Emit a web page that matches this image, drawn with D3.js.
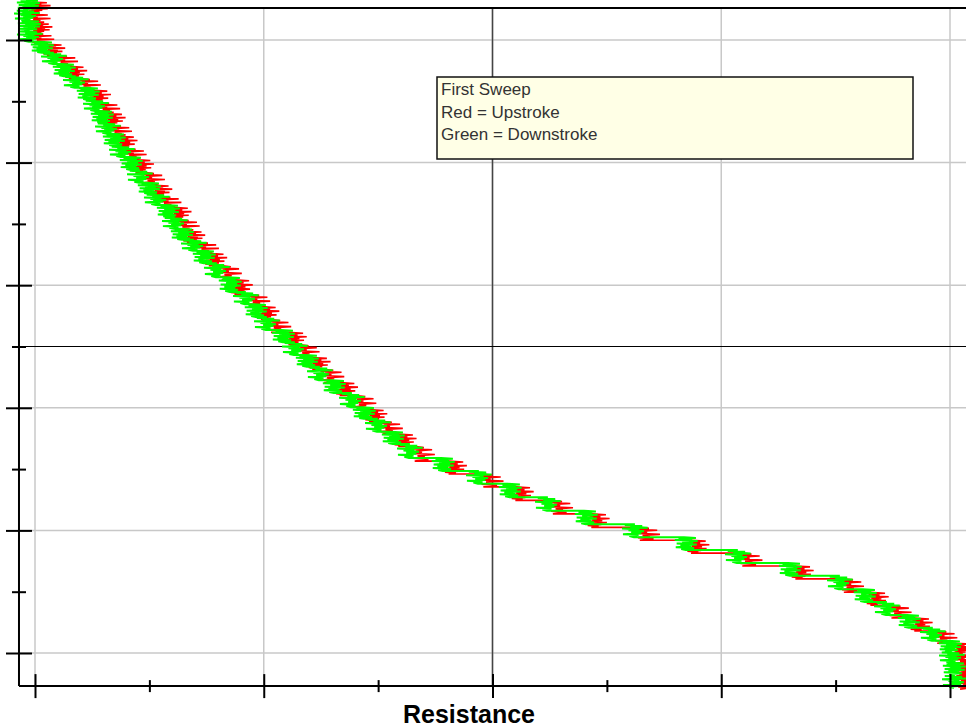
<!DOCTYPE html>
<html>
<head>
<meta charset="utf-8">
<script src="https://cdnjs.cloudflare.com/ajax/libs/d3/7.8.5/d3.min.js"></script>
<style>
body { margin: 0; background: #fff; }
</style>
</head>
<body>
<div id="chart"></div>
<script>
// downstroke (green): step boundaries on the position axis and resistance of each step
const posDown = [106.5, 104.9, 103.1, 101.5, 99.7, 97.9, 96.1, 94.1, 92.2, 90.2,
  88.4, 86.5, 84.7, 82.7, 80.9, 78.8, 76.7, 74.9, 73.1, 71.1,
  69.2, 67.4, 65.6, 63.6, 61.3, 58.9, 56.9, 54.8, 52.7, 50.7,
  48.6, 46.7, 44.5, 42.4, 40.1, 38.2, 36.1, 34.1, 31.8, 29.7,
  27.6, 25.4, 23.2, 21.0, 18.9, 16.8, 14.7, 12.6, 10.4, 8.3,
  6.2, 4.1, 2.0, 0.2, -1.6, -3.6, -5.7];
const resDown = [-0.98, -1.09, -0.87, -0.77, 0.55, 1.86, 2.95, 4.26, 5.57, 6.45,
  7.10, 7.76, 8.42, 9.29, 10.27, 11.26, 12.24, 13.11, 14.32, 15.08,
  15.85, 17.16, 18.25, 19.67, 21.09, 22.84, 23.93, 25.14, 26.89, 28.20,
  29.51, 30.93, 32.46, 34.43, 35.74, 37.27, 38.91, 40.77, 44.37, 48.31,
  51.69, 55.85, 60.00, 65.36, 70.93, 76.61, 82.30, 87.76, 90.49, 92.90,
  95.30, 97.92, 99.78, 100.0, 100.22, 100.33];

// upstroke (red)
const posUp = [106.2, 104.5, 102.7, 101.1, 99.3, 97.5, 95.7, 93.7, 91.8, 89.8,
  88.0, 86.1, 84.3, 82.3, 80.5, 78.4, 76.3, 74.5, 72.7, 70.7,
  68.8, 67.0, 65.2, 63.2, 60.9, 58.5, 56.5, 54.4, 52.3, 50.3,
  48.2, 46.3, 44.1, 42.0, 39.7, 37.8, 35.7, 33.7, 31.3, 29.2,
  27.1, 24.9, 22.7, 20.5, 18.4, 16.3, 14.2, 12.1, 9.9, 7.8,
  5.7, 3.6, 1.6, -0.2, -2.0, -4.0, -5.9];
const resUp = [-0.6, -0.7, -0.4, -0.3, 1.0, 2.3, 3.4, 4.8, 6.0, 6.9,
  7.6, 8.2, 8.9, 9.8, 10.7, 11.8, 12.7, 13.6, 14.8, 15.6,
  16.3, 17.7, 18.7, 20.2, 21.5, 23.3, 24.4, 25.6, 27.4, 28.7,
  30.0, 31.4, 33.0, 34.9, 36.2, 37.8, 39.4, 41.3, 44.9, 48.8,
  52.2, 56.4, 60.5, 65.9, 71.4, 77.1, 82.8, 88.2, 91.0, 93.4,
  95.8, 98.4, 100.3, 100.6, 100.8, 100.9];

// wiper noise inside one step: [fraction of the step, resistance offset], two shapes used in turn
const noiseDown = [
  [[0, 0], [0.06, 1.3], [0.11, -0.6], [0.17, 0.9], [0.23, -1.0], [0.3, 1.5],
   [0.36, -0.2], [0.43, 1.0], [0.5, -0.8], [0.57, 1.4], [0.64, -0.4], [0.71, 0.8],
   [0.78, -0.9], [0.85, 1.1], [0.92, -0.3], [1, 0.2]],
  [[0, 0.2], [0.07, -0.9], [0.13, 1.0], [0.2, -0.3], [0.27, 1.6], [0.33, -1.2],
   [0.4, 0.7], [0.47, -0.5], [0.55, 1.2], [0.62, -0.2], [0.7, 0.9], [0.77, -1.1],
   [0.84, 0.6], [0.91, -0.4], [1, 0.1]]
];
const noiseUp = [
  [[0, 0.3], [0.07, 1.9], [0.14, 0.1], [0.21, 1.3], [0.28, -0.2], [0.35, 2.3],
   [0.43, 0.4], [0.5, 1.5], [0.57, 0.0], [0.64, 2.0], [0.71, 0.2], [0.79, 1.4],
   [0.86, -0.1], [0.93, 1.1], [1, 0.3]],
  [[0, 0.1], [0.08, 1.2], [0.15, -0.2], [0.23, 2.1], [0.31, 0.3], [0.39, 1.0],
   [0.47, -0.1], [0.55, 2.4], [0.63, 0.5], [0.71, 1.3], [0.8, 0.0], [0.88, 1.7],
   [1, 0.2]]
];

const xMajor = [0, 25, 50, 75, 100];
const xMinor = [12.5, 37.5, 62.5, 87.5];
const yMajor = [0, 20, 40, 60, 80, 100];
const yMinor = [10, 30, 50, 70, 90];
const xLimits = [-1.75, 101.75];
const yLimits = [-5.4, 105.2];
const crossHair = [50, 50];
const legendLines = ["First Sweep", "Red = Upstroke", "Green = Downstroke"];
const xTitle = "Resistance";

function drawChart() {
  "use strict";
  const w = 966;
  const h = 728;

  const svg = d3.select("#chart").append("svg")
    .attr("width", w).attr("height", h)
    .style("display", "block");

  const x = d3.scaleLinear().domain([0, 100]).range([35, 950]);
  const y = d3.scaleLinear().domain([0, 100]).range([653, 40]);

  const left = x(xLimits[0]);
  const right = x(xLimits[1]);
  const top = y(yLimits[1]);
  const bottom = y(yLimits[0]);

  // grid
  svg.append("g").selectAll("line").data(xMajor).enter().append("line")
    .attr("x1", d => x(d)).attr("x2", d => x(d))
    .attr("y1", top).attr("y2", bottom)
    .attr("stroke", "#c8c8c8").attr("stroke-width", 1.5);
  svg.append("g").selectAll("line").data(yMajor).enter().append("line")
    .attr("x1", left).attr("x2", right)
    .attr("y1", d => y(d)).attr("y2", d => y(d))
    .attr("stroke", "#c8c8c8").attr("stroke-width", 1.5);

  // cross hair
  svg.append("line")
    .attr("x1", x(crossHair[0])).attr("x2", x(crossHair[0]))
    .attr("y1", top).attr("y2", bottom)
    .attr("stroke", "#444").attr("stroke-width", 1.5);
  svg.append("line")
    .attr("x1", left - 7).attr("x2", right)
    .attr("y1", y(crossHair[1])).attr("y2", y(crossHair[1]))
    .attr("stroke", "#000").attr("stroke-width", 1.2);

  // build the staircase path for one stroke
  function stairs(pos, res, noise) {
    let pts = [];
    for (let i = 0; i < res.length; i++) {
      noise[i % noise.length].forEach(function (n) {
        pts.push({r: res[i] + n[1], p: pos[i] + (pos[i + 1] - pos[i]) * n[0]});
      });
    }
    return pts;
  }

  const line = d3.line().x(d => x(d.r)).y(d => y(d.p));

  svg.append("path")
    .attr("d", line(stairs(posUp, resUp, noiseUp)))
    .attr("fill", "none").attr("stroke", "#ff0000").attr("stroke-width", 1.6);
  svg.append("path")
    .attr("d", line(stairs(posDown, resDown, noiseDown)))
    .attr("fill", "none").attr("stroke", "#00ff00").attr("stroke-width", 2);

  // frame
  svg.append("line").attr("x1", left).attr("x2", right).attr("y1", top).attr("y2", top)
    .attr("stroke", "#000").attr("stroke-width", 2);
  svg.append("line").attr("x1", left).attr("x2", left).attr("y1", top).attr("y2", bottom)
    .attr("stroke", "#000").attr("stroke-width", 2);
  svg.append("line").attr("x1", left).attr("x2", right).attr("y1", bottom).attr("y2", bottom)
    .attr("stroke", "#000").attr("stroke-width", 2);

  // ticks cross the axis, so draw both sides with two axes each
  function ticks(axisA, axisB, vals, size, transform) {
    [axisA, axisB].forEach(function (a) {
      const g = svg.append("g").attr("transform", transform)
        .call(a.tickValues(vals).tickSize(size).tickFormat(""));
      g.select(".domain").remove();
      g.selectAll("line").attr("stroke", "#000").attr("stroke-width", 2);
    });
  }
  ticks(d3.axisBottom(x), d3.axisTop(x), xMajor, 12, `translate(0,${bottom})`);
  ticks(d3.axisBottom(x), d3.axisTop(x), xMinor, 6, `translate(0,${bottom})`);
  ticks(d3.axisLeft(y), d3.axisRight(y), yMajor, 13, `translate(${left},0)`);
  ticks(d3.axisLeft(y), d3.axisRight(y), yMinor, 7, `translate(${left},0)`);

  // axis title
  svg.append("text")
    .attr("x", 469).attr("y", 723)
    .attr("text-anchor", "middle")
    .style("font-family", "'Liberation Sans', Arial, sans-serif")
    .style("font-weight", "bold").style("font-size", "25px")
    .text(xTitle);

  // legend box
  const legend = svg.append("g").attr("transform", "translate(437,77)");
  legend.append("rect")
    .attr("width", 476).attr("height", 82)
    .attr("fill", "#ffffe6").attr("stroke", "#111").attr("stroke-width", 1.5);
  legend.selectAll("text").data(legendLines).enter().append("text")
    .attr("x", 4).attr("y", (d, i) => 18 + i * 22.5)
    .style("font-family", "'Liberation Sans', Arial, sans-serif")
    .style("font-size", "17px").attr("fill", "#333")
    .text(d => d);
}

drawChart();
</script>
</body>
</html>
